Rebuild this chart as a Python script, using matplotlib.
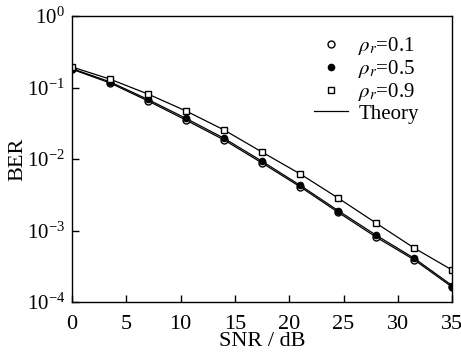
import numpy as np
import matplotlib
matplotlib.use("Agg")
import matplotlib.pyplot as plt

# ---------------------
# DATA
# ---------------------
snr = [0, 3.5, 7, 10.5, 14, 17.5, 21, 24.5, 28, 31.5, 35]
ber_01 = [0.180, 0.116, 0.065, 0.035, 0.0185, 0.0088, 0.0041, 0.0018, 0.00081, 0.00039, 0.000162]
ber_05 = [0.184, 0.120, 0.068, 0.037, 0.0195, 0.0093, 0.0043, 0.0019, 0.00086, 0.00041, 0.000170]
ber_09 = [0.194, 0.131, 0.081, 0.047, 0.0255, 0.0125, 0.0062, 0.00285, 0.00127, 0.00057, 0.00028]
labels = [r"$\rho_r$=0.1", r"$\rho_r$=0.5", r"$\rho_r$=0.9"]

# ---------------------
# STYLE
# ---------------------
plt.rcParams["font.family"] = ["Liberation Serif", "DejaVu Serif"]
plt.rcParams["mathtext.fontset"] = "stix"
plt.rcParams["font.size"] = 16

fig = plt.figure(figsize=(4.61, 3.55), dpi=100)
ax = fig.add_axes([0.156, 0.149, 0.825, 0.806])

# theory lines
for ys in (ber_01, ber_05, ber_09):
    ax.plot(snr, ys, color="black", lw=0.9)

# simulation markers
ax.plot(snr, ber_01, ls="none", marker="o", ms=5, mfc="white", mec="black", mew=1.0, label=labels[0])
ax.plot(snr, ber_05, ls="none", marker="o", ms=4.5, mfc="black", mec="black", mew=1.0, label=labels[1])
ax.plot(snr, ber_09, ls="none", marker="s", ms=4.5, mfc="white", mec="black", mew=1.0, label=labels[2])
ax.plot([], [], color="black", lw=0.9, label="Theory")

ax.set_yscale("log")
ax.set_xlim(0, 35)
ax.set_ylim(1e-4, 1)
ax.set_xticks([0, 5, 10, 15, 20, 25, 30, 35])
ax.minorticks_off()
ax.tick_params(direction="in", length=5, width=1, top=False, right=False)
ax.tick_params(axis="x", pad=9)
ax.tick_params(axis="y", pad=5, labelsize=15)
for s in ax.spines.values():
    s.set_linewidth(1.0)

ax.set_xlabel("SNR / dB")
ax.set_ylabel("BER")
ax.xaxis.set_label_coords(0.5, -0.105)
ax.yaxis.set_label_coords(-0.118, 0.5)

ax.legend(loc="upper right", bbox_to_anchor=(0.95, 0.985), frameon=False, fontsize=15,
          handlelength=1.6, handletextpad=0.5, labelspacing=0.05, borderpad=0.2)

plt.savefig("out.png", dpi=100)
